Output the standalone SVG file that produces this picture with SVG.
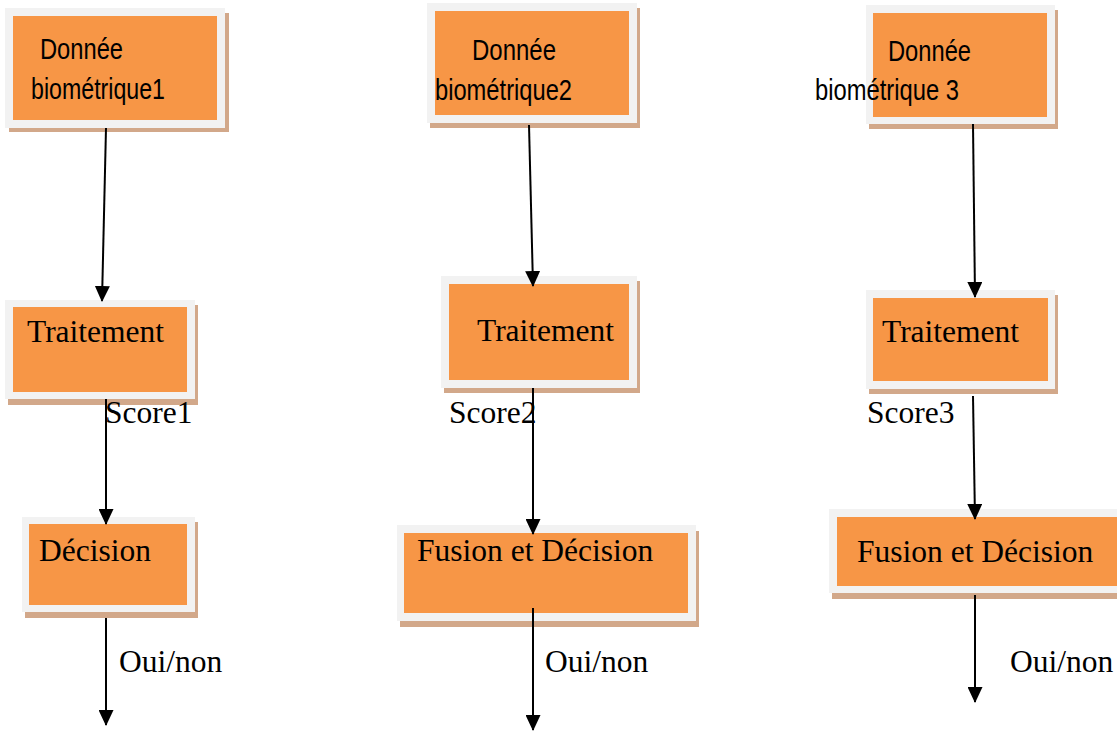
<svg xmlns="http://www.w3.org/2000/svg" width="1117" height="731" viewBox="0 0 1117 731">
  <style>
    .shadow { fill: #d2a88a; }
    .frame { fill: #f2f2f2; }
    .fill { fill: #f79646; }
    .sans { font-family: "Liberation Sans", Arial, sans-serif; font-size: 30px; fill: #000; }
    .serif { font-family: "Liberation Serif", "Times New Roman", serif; font-size: 31.5px; fill: #000; }
    .wire { stroke: #000; stroke-width: 2; fill: none; marker-end: url(#head); }
  </style>
  <defs>
    <marker id="head" viewBox="0 0 16 15" refX="15" refY="7.5" markerWidth="16" markerHeight="15" markerUnits="userSpaceOnUse" orient="auto">
      <path d="M0,0 L16,7.5 L0,15 Z" fill="#000"/>
    </marker>
  </defs>
  <rect width="1117" height="731" fill="#fff"/>

  <!-- column 1 -->
  <g id="donnee1">
    <rect class="shadow" x="9" y="13" width="220" height="119"/>
    <rect class="frame" x="5" y="8" width="220" height="120"/>
    <rect class="fill" x="13" y="16" width="204" height="104"/>
    <text class="sans" x="40" y="59" textLength="83" lengthAdjust="spacingAndGlyphs">Donnée</text>
    <text class="sans" x="31" y="99" textLength="134" lengthAdjust="spacingAndGlyphs">biométrique1</text>
  </g>
  <g id="traitement1">
    <rect class="shadow" x="8" y="305" width="190" height="100"/>
    <rect class="frame" x="5" y="300" width="190" height="99"/>
    <rect class="fill" x="13" y="307" width="174" height="85"/>
    <text class="serif" x="27" y="342">Traitement</text>
  </g>
  <g id="decision1">
    <rect class="shadow" x="25" y="522" width="173" height="96"/>
    <rect class="frame" x="22" y="517" width="173" height="95"/>
    <rect class="fill" x="29" y="524" width="158" height="81"/>
    <text class="serif" x="39" y="561">Décision</text>
  </g>

  <!-- column 2 -->
  <g id="donnee2">
    <rect class="shadow" x="430" y="8" width="210" height="120"/>
    <rect class="frame" x="427" y="3" width="210" height="120"/>
    <rect class="fill" x="435" y="11" width="194" height="104"/>
    <text class="sans" x="472" y="60" textLength="84" lengthAdjust="spacingAndGlyphs">Donnée</text>
    <text class="sans" x="435" y="100" textLength="137" lengthAdjust="spacingAndGlyphs">biométrique2</text>
  </g>
  <g id="traitement2">
    <rect class="shadow" x="444" y="281" width="196" height="112"/>
    <rect class="frame" x="441" y="276" width="196" height="112"/>
    <rect class="fill" x="449" y="284" width="180" height="96"/>
    <text class="serif" x="477" y="341">Traitement</text>
  </g>
  <g id="fusion2">
    <rect class="shadow" x="400" y="531" width="299" height="96"/>
    <rect class="frame" x="397" y="525" width="299" height="96"/>
    <rect class="fill" x="404" y="533" width="284" height="80"/>
    <text class="serif" x="417" y="561">Fusion et Décision</text>
  </g>

  <!-- column 3 -->
  <g id="donnee3">
    <rect class="shadow" x="869" y="10" width="189" height="119"/>
    <rect class="frame" x="866" y="5" width="189" height="119"/>
    <rect class="fill" x="873" y="13" width="174" height="104"/>
    <text class="sans" x="888" y="61" textLength="83" lengthAdjust="spacingAndGlyphs">Donnée</text>
    <text class="sans" x="815" y="100" textLength="144" lengthAdjust="spacingAndGlyphs">biométrique 3</text>
  </g>
  <g id="traitement3">
    <rect class="shadow" x="869" y="295" width="189" height="99"/>
    <rect class="frame" x="866" y="290" width="189" height="99"/>
    <rect class="fill" x="873" y="298" width="175" height="83"/>
    <text class="serif" x="882" y="342">Traitement</text>
  </g>
  <g id="fusion3">
    <rect class="shadow" x="832" y="515" width="290" height="84"/>
    <rect class="frame" x="829" y="509" width="290" height="84"/>
    <rect class="fill" x="837" y="517" width="282" height="69"/>
    <text class="serif" x="857" y="562">Fusion et Décision</text>
  </g>

  <!-- connectors -->
  <g id="connectors">
    <line class="wire" x1="106" y1="128" x2="102" y2="301"/>
    <line class="wire" x1="106" y1="399" x2="106" y2="524"/>
    <line class="wire" x1="106" y1="618" x2="106" y2="725"/>

    <line class="wire" x1="529" y1="125" x2="533" y2="286"/>
    <line class="wire" x1="533" y1="388" x2="533" y2="534"/>
    <line class="wire" x1="533" y1="608" x2="533" y2="730"/>

    <line class="wire" x1="973" y1="124" x2="975" y2="297"/>
    <line class="wire" x1="973" y1="396" x2="975" y2="519"/>
    <line class="wire" x1="975" y1="595" x2="975" y2="702"/>
  </g>

  <!-- labels -->
  <g id="labels">
    <text class="serif" x="105" y="423">Score1</text>
    <text class="serif" x="449" y="423">Score2</text>
    <text class="serif" x="867" y="423">Score3</text>
    <text class="serif" x="119" y="672">Oui/non</text>
    <text class="serif" x="545" y="672">Oui/non</text>
    <text class="serif" x="1010" y="672">Oui/non</text>
  </g>
</svg>
